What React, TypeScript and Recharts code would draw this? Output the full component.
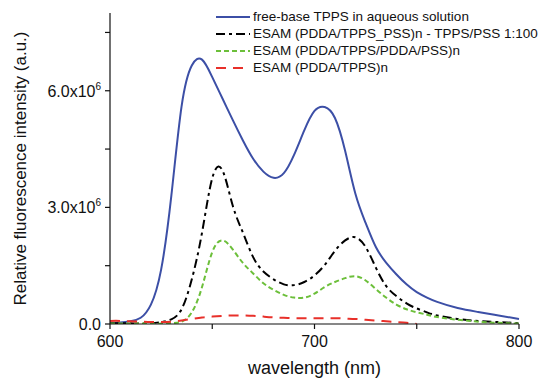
import { LineChart, Line, XAxis, YAxis, Label } from "recharts";

const wavelengths = [
  600, 605, 610, 615, 620, 625, 630, 635, 640, 645, 650, 655, 660, 665, 670,
  675, 680, 685, 690, 695, 700, 705, 710, 715, 720, 725, 730, 735, 740, 745,
  750, 755, 760, 770, 780, 790, 800,
];

// intensities in units of 1e6
const freeBase = [
  0.03, 0.04, 0.07, 0.16, 0.5, 1.4, 3.3, 5.6, 6.65, 6.8, 6.35, 5.8, 5.25, 4.72,
  4.25, 3.92, 3.76, 3.88, 4.35, 4.98, 5.48, 5.58, 5.3, 4.45, 3.35, 2.6, 1.98,
  1.58, 1.28, 1.02, 0.82, 0.68, 0.57, 0.41, 0.31, 0.22, 0.13,
];
const tppsPss = [
  0.02, 0.02, 0.02, 0.01, 0.02, 0.05, 0.12, 0.38, 1.15, 2.35, 3.75, 3.95, 3.05,
  2.35, 1.72, 1.35, 1.15, 1.02, 1.0, 1.08, 1.25, 1.52, 1.88, 2.15, 2.23, 1.98,
  1.45, 0.98, 0.72, 0.53, 0.4, 0.3, 0.22, 0.13, 0.08, 0.05, 0.02,
];
const tppsPddaPss = [
  0.01, 0.01, 0.01, 0.01, 0.01, 0.01, 0.02, 0.06, 0.3, 0.95, 1.85, 2.15, 1.92,
  1.57, 1.3, 1.05, 0.88, 0.75, 0.68, 0.68, 0.78, 0.95, 1.08, 1.18, 1.23, 1.12,
  0.9, 0.68, 0.5, 0.38, 0.3, 0.24, 0.18, 0.11, 0.06, 0.03, 0.01,
];
const pddaTpps = [
  0.08, 0.08, 0.07, 0.06, 0.05, 0.05, 0.06, 0.09, 0.13, 0.17, 0.19, 0.21, 0.22,
  0.22, 0.21, 0.19, 0.17, 0.16, 0.15, 0.15, 0.15, 0.15, 0.15, 0.14, 0.13, 0.11,
  0.09, 0.07, 0.05, 0.03, 0.0, null, null, null, null, null, null,
];

const xTicks = [600, 650, 700, 750, 800];
const xLabels = [600, 700, 800];
const yTicks = [0, 1.5e6, 3e6, 4.5e6, 6e6, 7.5e6];

const series = [
  { key: "freeBase", name: "free-base TPPS in aqueous solution", color: "#3c4fa6", dash: undefined },
  { key: "tppsPss", name: "ESAM (PDDA/TPPS_PSS)n - TPPS/PSS 1:100", color: "#000000", dash: "9 4 3 4" },
  { key: "tppsPddaPss", name: "ESAM (PDDA/TPPS/PDDA/PSS)n", color: "#6cbf3a", dash: "5 3" },
  { key: "pddaTpps", name: "ESAM (PDDA/TPPS)n", color: "#e8302a", dash: "10 7" },
];

const data = wavelengths.map((w, i) => ({
  w,
  freeBase: freeBase[i] * 1e6,
  tppsPss: tppsPss[i] * 1e6,
  tppsPddaPss: tppsPddaPss[i] * 1e6,
  pddaTpps: pddaTpps[i] == null ? null : (pddaTpps[i] as number) * 1e6,
}));

const font = "'Liberation Sans', Arial, sans-serif";

const XTick = (props: any) => {
  const { x, y, payload } = props;
  if (!xLabels.includes(payload.value)) return <g />;
  return (
    <text x={x} y={y + 16} textAnchor="middle" fontSize={16} fill="#111" fontFamily={font}>
      {payload.value}
    </text>
  );
};

const YTick = (props: any) => {
  const { x, y, payload } = props;
  const v = payload.value;
  if (v === 0) {
    return (
      <text x={x - 2} y={y + 6} textAnchor="end" fontSize={16} fill="#111" fontFamily={font}>
        0.0
      </text>
    );
  }
  if (v !== 3e6 && v !== 6e6) return <g />;
  return (
    <text x={x - 2} y={y + 6} textAnchor="end" fontSize={16} fill="#111" fontFamily={font}>
      {(v / 1e6).toFixed(1)}x10
      <tspan fontSize={10} dy={-7}>6</tspan>
    </text>
  );
};

const LegendBox = () => (
  <div
    style={{
      position: "absolute",
      left: 216,
      top: 8,
      fontFamily: font,
      fontSize: 13.5,
      color: "#111",
      lineHeight: "17px",
      whiteSpace: "nowrap",
    }}
  >
    {series.map((s) => (
      <div key={s.key} style={{ display: "flex", alignItems: "center", height: 17 }}>
        <svg width={36} height={6} style={{ marginRight: 1 }}>
          <line x1={0} y1={3} x2={34} y2={3} stroke={s.color} strokeWidth={2} strokeDasharray={s.dash} />
        </svg>
        <span>{s.name}</span>
      </div>
    ))}
  </div>
);

export default function App() {
  return (
    <div style={{ position: "absolute", left: 0, top: 0, width: 545, height: 381, background: "#fff" }}>
      <LineChart width={545} height={381} data={data} margin={{ top: 13, right: 26, bottom: 7, left: 50 }}>
        <XAxis
          dataKey="w"
          type="number"
          domain={[600, 800]}
          ticks={xTicks}
          tick={<XTick />}
          tickSize={5}
          height={50}
          stroke="#111"
          strokeWidth={1.2}
        >
          <Label value="wavelength (nm)" position="insideBottom" offset={0} fontSize={18} fill="#111" fontFamily={font} />
        </XAxis>
        <YAxis
          type="number"
          domain={[0, 8e6]}
          ticks={yTicks}
          tick={<YTick />}
          tickSize={5}
          width={60}
          stroke="#111"
          strokeWidth={1.2}
          allowDataOverflow
        >
          <Label
            value="Relative fluorescence intensity (a.u.)"
            angle={-90}
            position="insideLeft"
            offset={-30}
            style={{ textAnchor: "middle" }}
            fontSize={17}
            fill="#111"
            fontFamily={font}
          />
        </YAxis>
        {series.map((s) => (
          <Line
            key={s.key}
            dataKey={s.key}
            type="natural"
            stroke={s.color}
            strokeWidth={2}
            strokeDasharray={s.dash}
            dot={false}
            connectNulls={false}
            isAnimationActive={false}
          />
        ))}
      </LineChart>
      <LegendBox />
    </div>
  );
}
